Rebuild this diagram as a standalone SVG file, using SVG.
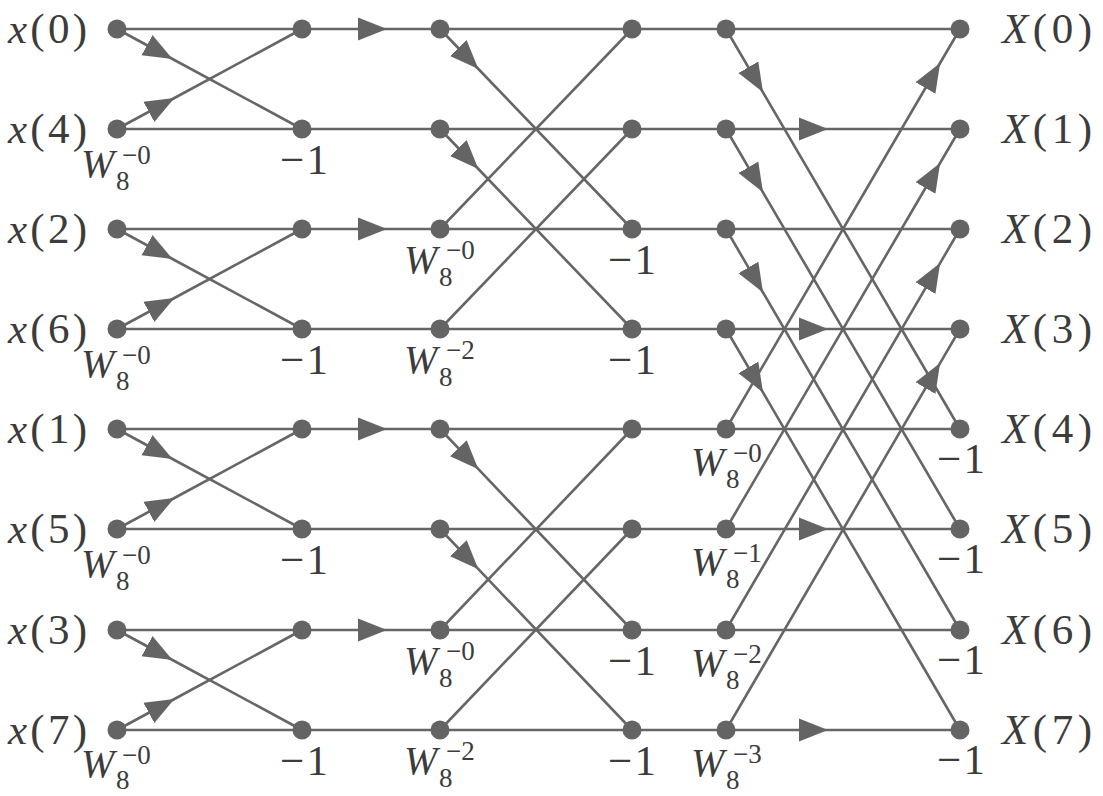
<svg xmlns="http://www.w3.org/2000/svg" width="1103" height="796" viewBox="0 0 1103 796">
<style>
.e{fill:none;stroke:#666;stroke-width:2.6}
.a{marker-mid:url(#ah)}
.d{fill:#646464}
.m{font-size:43px}
.i{font-style:italic}
.w{font-size:40px;font-style:italic}
.s{font-size:27px}
</style>
<defs>
<marker id="ah" viewBox="0 0 30 24" refX="29" refY="12" markerWidth="30" markerHeight="24" markerUnits="userSpaceOnUse" orient="auto">
<path d="M0,0.5 L29,12 L0,23.5 Z" fill="#646464"/>
</marker>
</defs>
<g id="connectors">
<path class="e" d="M117,29 H302"/><path class="e" d="M117,129 H302"/>
<path class="e" d="M117,229 H302"/><path class="e" d="M117,329 H302"/>
<path class="e" d="M117,429 H302"/><path class="e" d="M117,529 H302"/>
<path class="e" d="M117,630 H302"/><path class="e" d="M117,730 H302"/>
<path class="e a" d="M117,29 L172.5,59 L302,129"/><path class="e a" d="M117,129 L174.4,98 L302,29"/>
<path class="e a" d="M117,229 L172.5,259 L302,329"/><path class="e a" d="M117,329 L174.4,298 L302,229"/>
<path class="e a" d="M117,429 L172.5,459 L302,529"/><path class="e a" d="M117,529 L174.4,498 L302,429"/>
<path class="e a" d="M117,630 L172.5,660 L302,730"/><path class="e a" d="M117,730 L174.4,699 L302,630"/>
<path class="e a" d="M302,29 L387,29 L440,29"/><path class="e" d="M302,129 H440"/>
<path class="e a" d="M302,229 L387,229 L440,229"/><path class="e" d="M302,329 H440"/>
<path class="e a" d="M302,429 L387,429 L440,429"/><path class="e" d="M302,529 H440"/>
<path class="e a" d="M302,630 L387,630 L440,630"/><path class="e" d="M302,730 H440"/>
<path class="e" d="M440,29 H632"/><path class="e" d="M440,129 H632"/>
<path class="e" d="M440,229 H632"/><path class="e" d="M440,329 H632"/>
<path class="e" d="M440,429 H632"/><path class="e" d="M440,529 H632"/>
<path class="e" d="M440,630 H632"/><path class="e" d="M440,730 H632"/>
<path class="e a" d="M440,29 L478.4,69 L632,229"/><path class="e a" d="M440,129 L478.4,169 L632,329"/>
<path class="e a" d="M440,429 L478.4,469.2 L632,630"/><path class="e a" d="M440,529 L478.4,569.2 L632,730"/>
<path class="e" d="M440,229 L632,29"/><path class="e" d="M440,329 L632,129"/>
<path class="e" d="M440,630 L632,429"/><path class="e" d="M440,730 L632,529"/>
<path class="e" d="M632,29 H726"/><path class="e" d="M632,129 H726"/>
<path class="e" d="M632,229 H726"/><path class="e" d="M632,329 H726"/>
<path class="e" d="M632,429 H726"/><path class="e" d="M632,529 H726"/>
<path class="e" d="M632,630 H726"/><path class="e" d="M632,730 H726"/>
<path class="e" d="M726,29 H960"/><path class="e a" d="M726,129 L828,129 L960,129"/>
<path class="e" d="M726,229 H960"/><path class="e a" d="M726,329 L828,329 L960,329"/>
<path class="e" d="M726,429 H960"/><path class="e a" d="M726,529 L828,529 L960,529"/>
<path class="e" d="M726,630 H960"/><path class="e a" d="M726,730 L828,730 L960,730"/>
<path class="e a" d="M726,29 L763,92.3 L960,429"/><path class="e a" d="M726,129 L763,192.3 L960,529"/>
<path class="e a" d="M726,229 L763,292.5 L960,630"/><path class="e a" d="M726,329 L763,392.4 L960,730"/>
<path class="e a" d="M726,429 L940.1,63 L960,29"/><path class="e a" d="M726,529 L940.1,163 L960,129"/>
<path class="e a" d="M726,630 L940.1,263.1 L960,229"/><path class="e a" d="M726,730 L940.1,363.1 L960,329"/>
</g>
<g id="nodes" font-family="'Liberation Serif', 'Times New Roman', 'DejaVu Serif', serif" fill="#3c3c3c">
<g id="in0"><circle class="d" cx="117" cy="29" r="9.5"/><text class="m" x="8" y="43" textLength="79" lengthAdjust="spacing"><tspan class="i">x</tspan>(0)</text></g>
<g id="in4"><circle class="d" cx="117" cy="129" r="9.5"/><text class="m" x="8" y="143" textLength="79" lengthAdjust="spacing"><tspan class="i">x</tspan>(4)</text>
<text class="w" x="81" y="177">W</text><text class="s" x="116" y="190">8</text><text class="s" x="122" y="164">−0</text></g>
<g id="in2"><circle class="d" cx="117" cy="229" r="9.5"/><text class="m" x="8" y="243" textLength="79" lengthAdjust="spacing"><tspan class="i">x</tspan>(2)</text></g>
<g id="in6"><circle class="d" cx="117" cy="329" r="9.5"/><text class="m" x="8" y="343" textLength="79" lengthAdjust="spacing"><tspan class="i">x</tspan>(6)</text>
<text class="w" x="81" y="377">W</text><text class="s" x="116" y="390">8</text><text class="s" x="122" y="364">−0</text></g>
<g id="in1"><circle class="d" cx="117" cy="429" r="9.5"/><text class="m" x="8" y="443" textLength="79" lengthAdjust="spacing"><tspan class="i">x</tspan>(1)</text></g>
<g id="in5"><circle class="d" cx="117" cy="529" r="9.5"/><text class="m" x="8" y="543" textLength="79" lengthAdjust="spacing"><tspan class="i">x</tspan>(5)</text>
<text class="w" x="81" y="577">W</text><text class="s" x="116" y="590">8</text><text class="s" x="122" y="564">−0</text></g>
<g id="in3"><circle class="d" cx="117" cy="630" r="9.5"/><text class="m" x="8" y="644" textLength="79" lengthAdjust="spacing"><tspan class="i">x</tspan>(3)</text></g>
<g id="in7"><circle class="d" cx="117" cy="730" r="9.5"/><text class="m" x="8" y="744" textLength="79" lengthAdjust="spacing"><tspan class="i">x</tspan>(7)</text>
<text class="w" x="81" y="777">W</text><text class="s" x="116" y="789">8</text><text class="s" x="122" y="764">−0</text></g>
<g id="s1r0"><circle class="d" cx="302" cy="29" r="9.5"/></g>
<g id="s1r1"><circle class="d" cx="302" cy="129" r="9.5"/><text class="m" x="280" y="174" textLength="48" lengthAdjust="spacing">−1</text></g>
<g id="s1r2"><circle class="d" cx="302" cy="229" r="9.5"/></g>
<g id="s1r3"><circle class="d" cx="302" cy="329" r="9.5"/><text class="m" x="280" y="374" textLength="48" lengthAdjust="spacing">−1</text></g>
<g id="s1r4"><circle class="d" cx="302" cy="429" r="9.5"/></g>
<g id="s1r5"><circle class="d" cx="302" cy="529" r="9.5"/><text class="m" x="280" y="574" textLength="48" lengthAdjust="spacing">−1</text></g>
<g id="s1r6"><circle class="d" cx="302" cy="630" r="9.5"/></g>
<g id="s1r7"><circle class="d" cx="302" cy="730" r="9.5"/><text class="m" x="280" y="775" textLength="48" lengthAdjust="spacing">−1</text></g>
<g id="s2r0"><circle class="d" cx="440" cy="29" r="9.5"/></g>
<g id="s2r1"><circle class="d" cx="440" cy="129" r="9.5"/></g>
<g id="s2r2"><circle class="d" cx="440" cy="229" r="9.5"/><text class="w" x="404" y="273">W</text><text class="s" x="439" y="286">8</text><text class="s" x="446" y="259">−0</text></g>
<g id="s2r3"><circle class="d" cx="440" cy="329" r="9.5"/><text class="w" x="404" y="373">W</text><text class="s" x="439" y="386">8</text><text class="s" x="446" y="359">−2</text></g>
<g id="s2r4"><circle class="d" cx="440" cy="429" r="9.5"/></g>
<g id="s2r5"><circle class="d" cx="440" cy="529" r="9.5"/></g>
<g id="s2r6"><circle class="d" cx="440" cy="630" r="9.5"/><text class="w" x="404" y="674">W</text><text class="s" x="439" y="687">8</text><text class="s" x="446" y="660">−0</text></g>
<g id="s2r7"><circle class="d" cx="440" cy="730" r="9.5"/><text class="w" x="404" y="774">W</text><text class="s" x="439" y="787">8</text><text class="s" x="446" y="760">−2</text></g>
<g id="s3r0"><circle class="d" cx="632" cy="29" r="9.5"/></g>
<g id="s3r1"><circle class="d" cx="632" cy="129" r="9.5"/></g>
<g id="s3r2"><circle class="d" cx="632" cy="229" r="9.5"/><text class="m" x="608" y="274" textLength="48" lengthAdjust="spacing">−1</text></g>
<g id="s3r3"><circle class="d" cx="632" cy="329" r="9.5"/><text class="m" x="608" y="374" textLength="48" lengthAdjust="spacing">−1</text></g>
<g id="s3r4"><circle class="d" cx="632" cy="429" r="9.5"/></g>
<g id="s3r5"><circle class="d" cx="632" cy="529" r="9.5"/></g>
<g id="s3r6"><circle class="d" cx="632" cy="630" r="9.5"/><text class="m" x="608" y="675" textLength="48" lengthAdjust="spacing">−1</text></g>
<g id="s3r7"><circle class="d" cx="632" cy="730" r="9.5"/><text class="m" x="608" y="775" textLength="48" lengthAdjust="spacing">−1</text></g>
<g id="s4r0"><circle class="d" cx="726" cy="29" r="9.5"/></g>
<g id="s4r1"><circle class="d" cx="726" cy="129" r="9.5"/></g>
<g id="s4r2"><circle class="d" cx="726" cy="229" r="9.5"/></g>
<g id="s4r3"><circle class="d" cx="726" cy="329" r="9.5"/></g>
<g id="s4r4"><circle class="d" cx="726" cy="429" r="9.5"/><text class="w" x="691" y="475">W</text><text class="s" x="726" y="488">8</text><text class="s" x="733" y="462">−0</text></g>
<g id="s4r5"><circle class="d" cx="726" cy="529" r="9.5"/><text class="w" x="691" y="575">W</text><text class="s" x="726" y="588">8</text><text class="s" x="733" y="562">−1</text></g>
<g id="s4r6"><circle class="d" cx="726" cy="630" r="9.5"/><text class="w" x="691" y="676">W</text><text class="s" x="726" y="689">8</text><text class="s" x="733" y="663">−2</text></g>
<g id="s4r7"><circle class="d" cx="726" cy="730" r="9.5"/><text class="w" x="691" y="776">W</text><text class="s" x="726" y="789">8</text><text class="s" x="733" y="763">−3</text></g>
<g id="out0"><circle class="d" cx="960" cy="29" r="9.5"/><text class="m" x="1002" y="43" textLength="90" lengthAdjust="spacing"><tspan class="i">X</tspan>(0)</text></g>
<g id="out1"><circle class="d" cx="960" cy="129" r="9.5"/><text class="m" x="1002" y="143" textLength="90" lengthAdjust="spacing"><tspan class="i">X</tspan>(1)</text></g>
<g id="out2"><circle class="d" cx="960" cy="229" r="9.5"/><text class="m" x="1002" y="243" textLength="90" lengthAdjust="spacing"><tspan class="i">X</tspan>(2)</text></g>
<g id="out3"><circle class="d" cx="960" cy="329" r="9.5"/><text class="m" x="1002" y="343" textLength="90" lengthAdjust="spacing"><tspan class="i">X</tspan>(3)</text></g>
<g id="out4"><circle class="d" cx="960" cy="429" r="9.5"/><text class="m" x="1002" y="443" textLength="90" lengthAdjust="spacing"><tspan class="i">X</tspan>(4)</text><text class="m" x="937" y="473" textLength="48" lengthAdjust="spacing">−1</text></g>
<g id="out5"><circle class="d" cx="960" cy="529" r="9.5"/><text class="m" x="1002" y="543" textLength="90" lengthAdjust="spacing"><tspan class="i">X</tspan>(5)</text><text class="m" x="937" y="573" textLength="48" lengthAdjust="spacing">−1</text></g>
<g id="out6"><circle class="d" cx="960" cy="630" r="9.5"/><text class="m" x="1002" y="644" textLength="90" lengthAdjust="spacing"><tspan class="i">X</tspan>(6)</text><text class="m" x="937" y="674" textLength="48" lengthAdjust="spacing">−1</text></g>
<g id="out7"><circle class="d" cx="960" cy="730" r="9.5"/><text class="m" x="1002" y="744" textLength="90" lengthAdjust="spacing"><tspan class="i">X</tspan>(7)</text><text class="m" x="937" y="774" textLength="48" lengthAdjust="spacing">−1</text></g>
</g>
</svg>
